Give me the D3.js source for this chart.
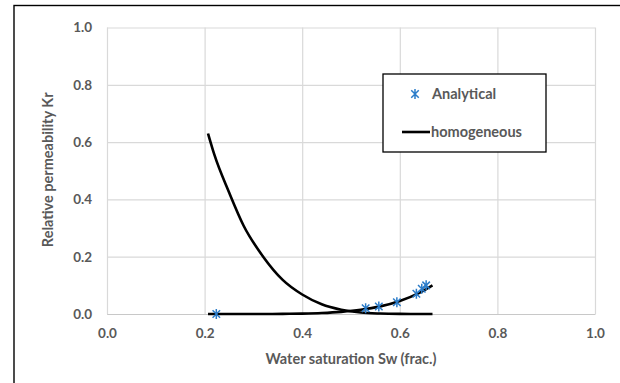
<!DOCTYPE html>
<html>
<head>
<meta charset="utf-8">
<script src="https://cdn.jsdelivr.net/npm/d3@7"></script>
<style>
    body { margin: 0; background: #ffffff; }
    text { font-family: Lato, 'Liberation Sans', sans-serif; font-weight: bold; fill: #595959; }
</style>
</head>
<body>
<div id="relperm_chart"></div>
<script>
// Data.
var xTicks = [0.0, 0.2, 0.4, 0.6, 0.8, 1.0];
var yTicks = [0.0, 0.2, 0.4, 0.6, 0.8, 1.0];

// Analytical points (water saturation, relative permeability).
var analyticalSw = [0.224, 0.530, 0.557, 0.594, 0.634, 0.645, 0.654];
var analyticalKr = [0.000, 0.020, 0.026, 0.041, 0.071, 0.088, 0.100];

// Homogeneous curves (water and oil relative permeability).
var homogSw  = [0.207, 0.220, 0.250, 0.280, 0.320, 0.360, 0.400, 0.440, 0.480, 0.520, 0.560, 0.600, 0.640, 0.667];
var homogKrw = [0.000, 0.000, 0.000, 0.000, 0.0001, 0.0004, 0.0013, 0.0033, 0.0074, 0.0146, 0.0266, 0.0455, 0.0739, 0.100];
var homogKro = [0.630, 0.556, 0.425, 0.308, 0.200, 0.119, 0.068, 0.034, 0.015, 0.005, 0.0015, 0.0003, 0.000, 0.000];

// Set the margins of the visualization.
var margin = {left: 107, right: 25, top: 27.5, bottom: 69};

// Set the width and height of the visualization.
var width = 620 - margin.left - margin.right,
    height = 383 - margin.top - margin.bottom;

var svgRoot = d3.select('#relperm_chart')
    .append('svg')
        .attr('width', 620)
        .attr('height', 383);

// Outer chart border (runs off the right and bottom of the picture).
svgRoot.append('rect')
    .attr('x', 14)
    .attr('y', 5.5)
    .attr('width', 640)
    .attr('height', 420)
    .attr('fill', '#ffffff')
    .attr('stroke', '#000000')
    .attr('stroke-width', 1.4);

var svg = svgRoot.append('g')
    .attr('transform', 'translate(' + margin.left + ', ' + margin.top + ')');

var x = d3.scaleLinear().domain([0, 1]).range([0, width]);
var y = d3.scaleLinear().domain([0, 1]).range([height, 0]);

// Gridlines.
svg.append('g')
    .attr('class', 'x-grid')
    .attr('transform', 'translate(0, ' + height + ')')
    .call(d3.axisBottom(x).tickValues(xTicks).tickSize(-height).tickFormat(''))
    .call(function(g){ g.select('.domain').remove(); })
    .selectAll('line')
        .attr('stroke', '#d9d9d9')
        .attr('stroke-width', 1.2);

svg.append('g')
    .attr('class', 'y-grid')
    .call(d3.axisLeft(y).tickValues(yTicks).tickSize(-width).tickFormat(''))
    .call(function(g){ g.select('.domain').remove(); })
    .selectAll('line')
        .attr('stroke', '#d9d9d9')
        .attr('stroke-width', 1.2);

// Taking care of the x-axis.
var xAxis = svg.append('g')
    .attr('class', 'x-axis')
    .attr('transform', 'translate(0, ' + height + ')')
    .call(d3.axisBottom(x).tickValues(xTicks).tickSize(0).tickPadding(14).tickFormat(d3.format('.1f')));
xAxis.select('.domain').attr('stroke', '#c8c8c8').attr('stroke-width', 1.2);
xAxis.selectAll('text').style('font-size', '13.5px');

// Taking care of the y-axis.
var yAxis = svg.append('g')
    .attr('class', 'y-axis')
    .call(d3.axisLeft(y).tickValues(yTicks).tickSize(0).tickPadding(15).tickFormat(d3.format('.1f')));
yAxis.select('.domain').remove();
yAxis.selectAll('text').style('font-size', '13.5px');

// Axis titles.
svg.append('text')
    .attr('x', 244)
    .attr('y', height + 49.5)
    .attr('text-anchor', 'middle')
    .style('font-size', '14.5px')
    .text('Water saturation Sw (frac.)');

svg.append('text')
    .attr('x', -(height / 2) + 1)
    .attr('y', -54)
    .attr('text-anchor', 'middle')
    .attr('transform', 'rotate(-90)')
    .style('font-size', '14.5px')
    .text('Relative permeability Kr');

// Homogeneous curves.
var line = d3.line()
    .x(function(d){ return x(d[0]); })
    .y(function(d){ return y(d[1]); })
    .curve(d3.curveMonotoneX);

var krwData = homogSw.map(function(s, i){ return [s, homogKrw[i]]; });
var kroData = homogSw.map(function(s, i){ return [s, homogKro[i]]; });

[kroData, krwData].forEach(function(d){
    svg.append('path')
        .datum(d)
        .attr('d', line)
        .attr('fill', 'none')
        .attr('stroke', '#000000')
        .attr('stroke-width', 2.6);
});

// Star marker, same as the spreadsheet one.
function starPath(r){
    var k = r * 0.75;
    return 'M0,' + (-r) + 'L0,' + r +
        'M' + (-k) + ',' + (-k) + 'L' + k + ',' + k +
        'M' + (-k) + ',' + k + 'L' + k + ',' + (-k);
}

var starColor = '#2b7cc9';

svg.selectAll('.star')
    .data(analyticalSw.map(function(s, i){ return [s, analyticalKr[i]]; }))
    .enter().append('path')
        .attr('class', 'star')
        .attr('transform', function(d){ return 'translate(' + x(d[0]) + ',' + y(d[1]) + ')'; })
        .attr('d', starPath(5))
        .attr('fill', 'none')
        .attr('stroke', starColor)
        .attr('stroke-width', 1.5);

// Legend.
var legend = svgRoot.append('g').attr('class', 'legend');

legend.append('rect')
    .attr('x', 383)
    .attr('y', 74)
    .attr('width', 163)
    .attr('height', 78)
    .attr('fill', '#ffffff')
    .attr('stroke', '#000000')
    .attr('stroke-width', 1.3);

legend.append('path')
    .attr('transform', 'translate(415, 94)')
    .attr('d', starPath(5))
    .attr('fill', 'none')
    .attr('stroke', starColor)
    .attr('stroke-width', 1.5);

legend.append('text')
    .attr('x', 432)
    .attr('y', 94)
    .attr('dy', '0.35em')
    .style('font-size', '14.5px')
    .text('Analytical');

legend.append('line')
    .attr('x1', 402)
    .attr('x2', 430)
    .attr('y1', 132)
    .attr('y2', 132)
    .attr('stroke', '#000000')
    .attr('stroke-width', 2.6);

legend.append('text')
    .attr('x', 431)
    .attr('y', 132)
    .attr('dy', '0.35em')
    .style('font-size', '14.5px')
    .text('homogeneous');
</script>
</body>
</html>
